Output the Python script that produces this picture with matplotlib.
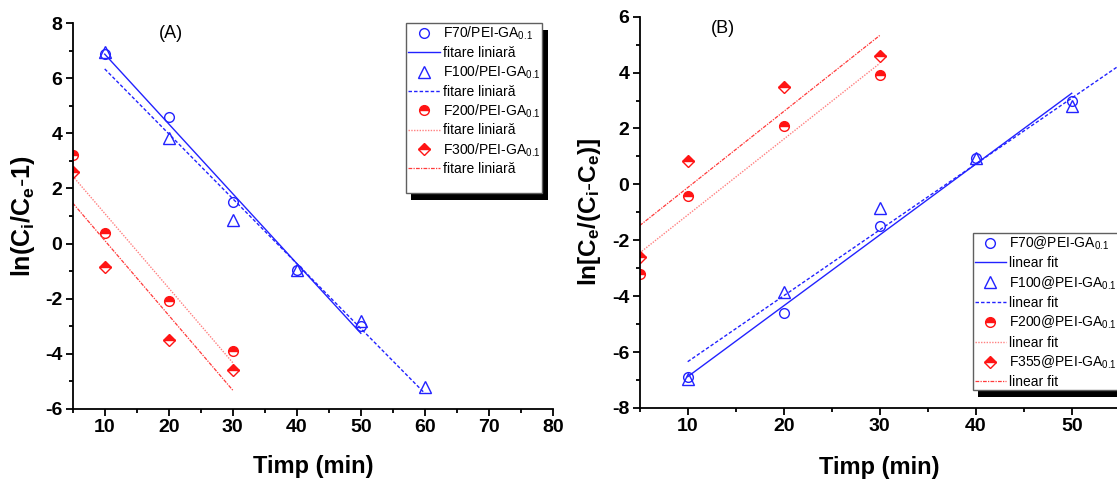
import numpy as np
import matplotlib
matplotlib.use("Agg")
import matplotlib.pyplot as plt
from matplotlib.ticker import MultipleLocator
from matplotlib.patches import Rectangle

plt.rcParams['font.family'] = ['Liberation Sans', 'DejaVu Sans']
plt.rcParams['mathtext.fontset'] = 'custom'
plt.rcParams['mathtext.rm'] = 'Liberation Sans'
plt.rcParams['mathtext.it'] = 'Liberation Sans'
plt.rcParams['mathtext.bf'] = 'Liberation Sans:bold'
plt.rcParams['axes.unicode_minus'] = False

# ---- data (panel A: ln(Ci/Ce - 1); panel B: ln[Ce/(Ci-Ce)]) ----
t_f70 = [10, 20, 30, 40, 50]
a_f70 = [6.9, 4.6, 1.5, -0.95, -3.0]
t_f100 = [10, 20, 30, 40, 50, 60]
a_f100 = [6.95, 3.85, 0.85, -0.95, -2.8, -5.2]
t_f200 = [5, 10, 20, 30]
a_f200 = [3.2, 0.4, -2.1, -3.9]
t_f300 = [5, 10, 20, 30]
a_f300 = [2.6, -0.85, -3.5, -4.6]

b_f70 = [-6.9, -4.6, -1.5, 0.95, 3.0]
b_f100 = [-6.95, -3.85, -0.85, 0.95, 2.8, 5.2]
b_f200 = [-3.2, -0.4, 2.1, 3.9]
b_f355 = [-2.6, 0.85, 3.5, 4.6]

labels_a = ["F70/PEI-GA$_{0.1}$", "F100/PEI-GA$_{0.1}$",
            "F200/PEI-GA$_{0.1}$", "F300/PEI-GA$_{0.1}$"]
fit_a = "fitare liniară"
labels_b = ["F70@PEI-GA$_{0.1}$", "F100@PEI-GA$_{0.1}$",
            "F200@PEI-GA$_{0.1}$", "F355@PEI-GA$_{0.1}$"]
fit_b = "linear fit"

BLUE = '#2222ff'
RED = '#ff1414'
PINK = '#ff8080'
DRED = '#ff3a3a'

W, H = 1117, 480
fig = plt.figure(figsize=(W / 100, H / 100), dpi=100)


def fr(x0, x1, ytop, ybot):
    return [x0 / W, 1 - ybot / H, (x1 - x0) / W, (ybot - ytop) / H]


axA = fig.add_axes(fr(72.7, 552.9, 23.3, 408.7))
axB = fig.add_axes(fr(639.7, 639.7 + 50 * 9.6, 16.7, 408.0))


def fit_line(t, y):
    p = np.polyfit(t, y, 1)
    xs = np.array([min(t), max(t)])
    return xs, np.polyval(p, xs)


def draw(ax, series, labels, fitlabel):
    styles = [
        dict(marker='o', mfc='none', mec=BLUE, ms=7, mew=1.0),
        dict(marker='^', mfc='none', mec=BLUE, ms=8.5, mew=1.0),
        dict(marker='o', mfc=RED, mec=RED, fillstyle='top', markerfacecoloralt='white', ms=7, mew=1.0),
        dict(marker='D', mfc=RED, mec=RED, fillstyle='top', markerfacecoloralt='white', ms=6.2, mew=1.0),
    ]
    lstyles = [
        dict(color=BLUE, ls='-', lw=1.0),
        dict(color=BLUE, ls=(0, (2.5, 1.5)), lw=1.0),
        dict(color=PINK, ls=(0, (1, 1)), lw=1.0),
        dict(color=DRED, ls=(0, (3, 1, 1, 1)), lw=0.9),
    ]
    handles = []
    for (t, y), lab, ms, ls in zip(series, labels, styles, lstyles):
        h1, = ax.plot(t, y, ls='none', label=lab, **ms)
        xs, ys = fit_line(t, y)
        h2, = ax.plot(xs, ys, label=fitlabel, **ls)
        handles += [h1, h2]
    return handles


hA = draw(axA, [(t_f70, a_f70), (t_f100, a_f100), (t_f200, a_f200), (t_f300, a_f300)],
          labels_a, fit_a)
hB = draw(axB, [(t_f70, b_f70), (t_f100, b_f100), (t_f200, b_f200), (t_f300, b_f355)],
          labels_b, fit_b)

for ax in (axA, axB):
    ax.spines['top'].set_visible(False)
    ax.spines['right'].set_visible(False)
    ax.spines['left'].set_linewidth(1.3)
    ax.spines['bottom'].set_linewidth(1.3)
    ax.xaxis.set_major_locator(MultipleLocator(10))
    ax.xaxis.set_minor_locator(MultipleLocator(5))
    ax.yaxis.set_major_locator(MultipleLocator(2))
    ax.yaxis.set_minor_locator(MultipleLocator(1))
    ax.tick_params(which='major', direction='out', length=5, width=1.3, pad=2.5)
    ax.tick_params(which='minor', direction='out', length=3, width=1.3)

axA.set_xlim(5, 80)
axA.set_ylim(-6, 8)
axA.set_xticks([10, 20, 30, 40, 50, 60, 70, 80])
axA.set_ylabel(r"$\mathbf{ln(C_i/C_e}$-$\mathbf{1)}$", fontsize=18)
axA.text(20.4, 7.64, "(A)", fontsize=13, ha='center', va='center')

axB.set_xlim(5, 55)
axB.set_ylim(-8, 6)
axB.set_xticks([10, 20, 30, 40, 50])
axB.set_ylabel(r"$\mathbf{ln[C_e/(C_i}$-$\mathbf{C_e)]}$", fontsize=17.5)
axB.text(13.7, 5.585, "(B)", fontsize=13, ha='center', va='center')

for ax, ylx in ((axA, (23 - 72.7) / 480.2), (axB, (590 - 639.7) / 480)):
    ax.set_xlabel("Timp (min)", fontsize=17, fontweight='bold', va='center')
    ax.xaxis.set_label_coords(0.5, -0.151)
    ax.yaxis.label.set_va('center')
    ax.yaxis.set_label_coords(ylx, 0.5)
    for lab in ax.get_xticklabels() + ax.get_yticklabels():
        lab.set_fontweight('bold')
        lab.set_fontsize(14)


def boxed_legend(ax, handles, anchor_px, fontsize, box_px, shadow_off, hl, tp, ls):
    leg = ax.legend(handles=handles, loc='upper left',
                    bbox_to_anchor=(anchor_px[0] / W, 1 - anchor_px[1] / H),
                    bbox_transform=fig.transFigure, fontsize=fontsize,
                    frameon=False, handlelength=hl, handletextpad=tp,
                    labelspacing=ls, borderpad=0, borderaxespad=0, numpoints=1)
    leg.set_zorder(6)
    x0, y0, x1, y1 = box_px
    sh = Rectangle((x0 / W + shadow_off[0] / W, 1 - (y1 + shadow_off[1]) / H),
                   (x1 - x0) / W, (y1 - y0) / H, transform=fig.transFigure,
                   facecolor='black', edgecolor='none', zorder=4, clip_on=False)
    frame = Rectangle((x0 / W, 1 - y1 / H), (x1 - x0) / W, (y1 - y0) / H,
                      transform=fig.transFigure, facecolor='white',
                      edgecolor='#606060', lw=1.0, zorder=4.5, clip_on=False)
    ax.add_patch(sh)
    ax.add_patch(frame)
    return leg


boxed_legend(axA, hA, (408.3, 24.5), 10, (405.7, 23.3, 542.3, 193.3), (5.5, 6.5),
             2.28, 0.25, 0.27)
boxed_legend(axB, hB, (975.0, 234.5), 10, (972.8, 232.7, 1135, 390), (5.7, 6.7),
             2.2, 0.28, 0.30)

fig.savefig("out.png", dpi=100)
